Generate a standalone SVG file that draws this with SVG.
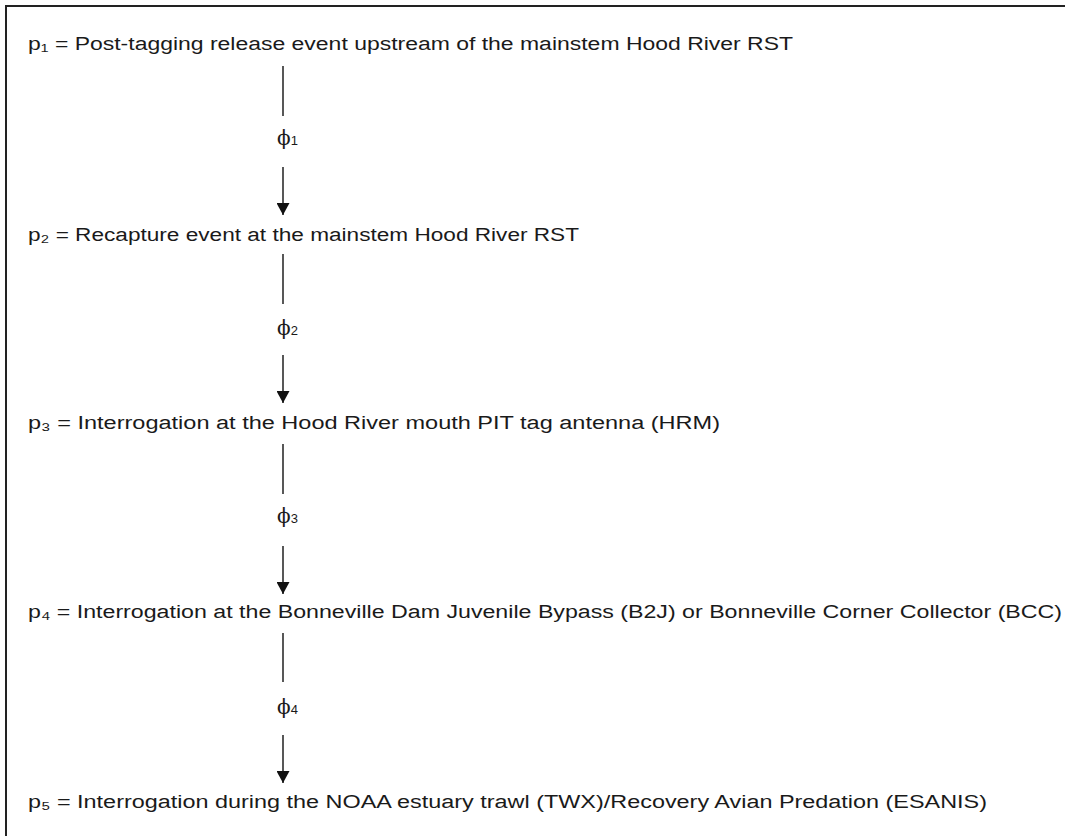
<svg xmlns="http://www.w3.org/2000/svg" width="1065" height="836" viewBox="0 0 1065 836">
<style>
.lbl{font-family:"Liberation Sans","Noto Sans",Arial,sans-serif;font-size:18px;fill:#1a1a1a}
.phi{font-family:"DejaVu Serif","Liberation Serif",serif;font-size:20px;fill:#1a1a1a}
.sub{font-family:"Liberation Sans","Noto Sans",sans-serif;font-size:13px;fill:#1a1a1a}
.ln{stroke:#111;stroke-width:1.4;fill:none}
</style>
<defs>
<marker id="ah" markerUnits="userSpaceOnUse" markerWidth="12" markerHeight="13" refX="12" refY="6.5" orient="auto" viewBox="0 0 12 13">
<path d="M0,0 L12,6.5 L0,13 Z" fill="#111"/>
</marker>
</defs>
<rect width="1065" height="836" fill="#fff"/>
<path d="M6,836 L6,6 L1065,6" stroke="#222" stroke-width="2" fill="none"/>
<g id="p1"><text class="lbl" x="28" y="50" textLength="765" lengthAdjust="spacingAndGlyphs">p₁ = Post-tagging release event upstream of the mainstem Hood River RST</text></g>
<g id="p2"><text class="lbl" x="28" y="241" textLength="551" lengthAdjust="spacingAndGlyphs">p₂ = Recapture event at the mainstem Hood River RST</text></g>
<g id="p3"><text class="lbl" x="28" y="429" textLength="692" lengthAdjust="spacingAndGlyphs">p₃ = Interrogation at the Hood River mouth PIT tag antenna (HRM)</text></g>
<g id="p4"><text class="lbl" x="28" y="618" textLength="1034" lengthAdjust="spacingAndGlyphs">p₄ = Interrogation at the Bonneville Dam Juvenile Bypass (B2J) or Bonneville Corner Collector (BCC)</text></g>
<g id="p5"><text class="lbl" x="28" y="808" textLength="959" lengthAdjust="spacingAndGlyphs">p₅ = Interrogation during the NOAA estuary trawl (TWX)/Recovery Avian Predation (ESANIS)</text></g>
<g id="connectors">
<line class="ln" x1="283" y1="66" x2="283" y2="116"/>
<line class="ln" x1="283" y1="167" x2="283" y2="215" marker-end="url(#ah)"/>
<line class="ln" x1="283" y1="254" x2="283" y2="304"/>
<line class="ln" x1="283" y1="355" x2="283" y2="403" marker-end="url(#ah)"/>
<line class="ln" x1="283" y1="444" x2="283" y2="494"/>
<line class="ln" x1="283" y1="546" x2="283" y2="594" marker-end="url(#ah)"/>
<line class="ln" x1="283" y1="633" x2="283" y2="682"/>
<line class="ln" x1="283" y1="735" x2="283" y2="783" marker-end="url(#ah)"/>
<text class="phi" x="277" y="145">ϕ<tspan class="sub">1</tspan></text>
<text class="phi" x="277" y="335">ϕ<tspan class="sub">2</tspan></text>
<text class="phi" x="277" y="523">ϕ<tspan class="sub">3</tspan></text>
<text class="phi" x="277" y="714">ϕ<tspan class="sub">4</tspan></text>
</g>
</svg>
